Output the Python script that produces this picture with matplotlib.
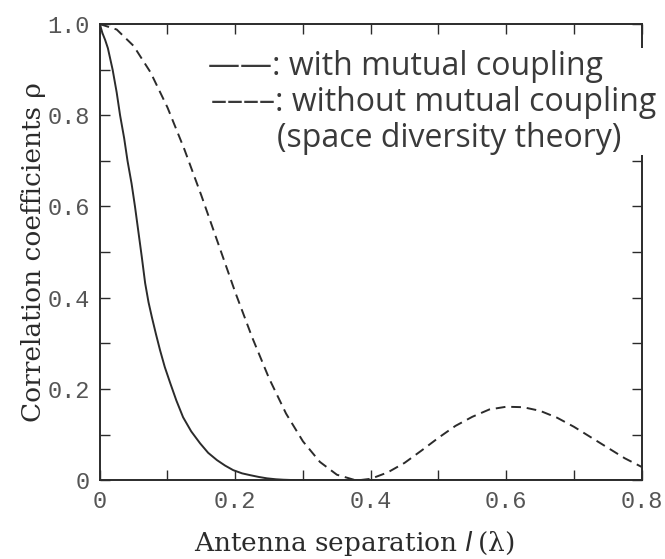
"""
Correlation coefficient vs antenna separation,
with and without mutual coupling.
"""

import matplotlib
matplotlib.use("Agg")
import matplotlib.pyplot as plt
from matplotlib.patches import Rectangle
from matplotlib.ticker import MultipleLocator


# ============================================================
# Data
# ============================================================

# with mutual coupling (solid)
sep_coupled = [0.0, 0.004, 0.008, 0.012, 0.019, 0.025, 0.030, 0.036, 0.041,
               0.047, 0.052, 0.057, 0.062, 0.067, 0.072, 0.077, 0.083, 0.089,
               0.096, 0.104, 0.113, 0.123, 0.135, 0.148, 0.160, 0.173, 0.185,
               0.197, 0.210, 0.222, 0.235, 0.247, 0.260, 0.271, 0.290, 0.350,
               0.400, 0.500, 0.600, 0.700, 0.800]
rho_coupled = [1.0, 0.980, 0.965, 0.947, 0.900, 0.850, 0.800, 0.750, 0.700,
               0.650, 0.600, 0.545, 0.490, 0.432, 0.390, 0.357, 0.320, 0.285,
               0.248, 0.213, 0.175, 0.138, 0.107, 0.081, 0.060, 0.044, 0.032,
               0.022, 0.015, 0.011, 0.007, 0.004, 0.002, 0.001, 0.0, 0.0,
               0.0, 0.0, 0.0, 0.0, 0.0]

# without mutual coupling (dashed, space diversity theory)
sep_free = [0.0, 0.025, 0.05, 0.075, 0.10, 0.125, 0.15, 0.175, 0.20, 0.225,
            0.25, 0.275, 0.30, 0.325, 0.35, 0.375, 0.383, 0.40, 0.425, 0.45,
            0.475, 0.50, 0.525, 0.55, 0.575, 0.60, 0.625, 0.65, 0.675, 0.70,
            0.725, 0.75, 0.775, 0.80]
rho_free = [1.0, 0.988, 0.952, 0.894, 0.817, 0.725, 0.624, 0.518, 0.412, 0.313,
            0.223, 0.146, 0.085, 0.040, 0.012, 0.001, 0.0, 0.003, 0.017, 0.038,
            0.065, 0.093, 0.119, 0.139, 0.155, 0.161, 0.160, 0.152, 0.137, 0.117,
            0.094, 0.071, 0.048, 0.029]

major_ticks = [0, 0.2, 0.4, 0.6, 0.8, 1.0]
x_tick_labels = ["0", "0.2", "0.4", "0.6", "0.8"]
y_tick_labels = ["0", "0.2", "0.4", "0.6", "0.8", "1.0"]

legend_lines = ["\u2014\u2014: with mutual coupling",
                "\u2013\u2013\u2013\u2013: without mutual coupling",
                "(space diversity theory)"]

INK = "#2b2b2b"


# ============================================================
# Plot
# ============================================================

fig = plt.figure(figsize=(6.65, 5.59), dpi=100)
ax = fig.add_axes([0.150, 0.141, 0.815, 0.816])

ax.plot(sep_coupled, rho_coupled, color=INK, lw=1.4)
ax.plot(sep_free, rho_free, color=INK, lw=1.4, linestyle=(0, (5, 3)))

ax.set_xlim(0, 0.8)
ax.set_ylim(0, 1.0)

ax.set_xticks(major_ticks[:5])
ax.set_xticklabels(x_tick_labels)
ax.set_yticks(major_ticks)
ax.set_yticklabels(y_tick_labels)
ax.xaxis.set_minor_locator(MultipleLocator(0.1))
ax.yaxis.set_minor_locator(MultipleLocator(0.1))

ax.tick_params(which="both", direction="in", top=True, right=True,
               length=7, width=1.0, color=INK)
ax.tick_params(which="major", labelsize=17, labelcolor="#555555")
ax.tick_params(axis="x", which="major", pad=7)
ax.tick_params(axis="y", which="major", pad=7)
for lab in ax.get_xticklabels() + ax.get_yticklabels():
    lab.set_family("Liberation Mono")

for sp in ax.spines.values():
    sp.set_linewidth(1.4)
    sp.set_color(INK)

plt.rcParams["mathtext.fontset"] = "dejavuserif"
ax.set_xlabel("Antenna separation $\\mathit{l}$\u2009(\u03bb)", family="DejaVu Serif",
              fontsize=19, color=INK, va="baseline")
ax.set_ylabel("Correlation coefficients \u03c1", family="DejaVu Serif",
              fontsize=19, color=INK)
ax.xaxis.set_label_coords(0.47, -0.155)
ax.yaxis.set_label_coords(-0.10, 0.50)

# white patch breaking the right spine behind the legend text
ax.add_patch(Rectangle((0.97, 0.712), 0.06, 0.235, transform=ax.transAxes,
                       facecolor="white", edgecolor="none", zorder=5,
                       clip_on=False))

# hand-written legend
legend_pos = [(0.200, 0.908), (0.205, 0.827), (0.327, 0.748)]
for (tx, ty), line in zip(legend_pos, legend_lines):
    ax.text(tx, ty, line, transform=ax.transAxes, fontsize=23,
            family="Open Sans", color="#3a3a3a", va="center", zorder=6)

fig.savefig("out.png", dpi=100)
